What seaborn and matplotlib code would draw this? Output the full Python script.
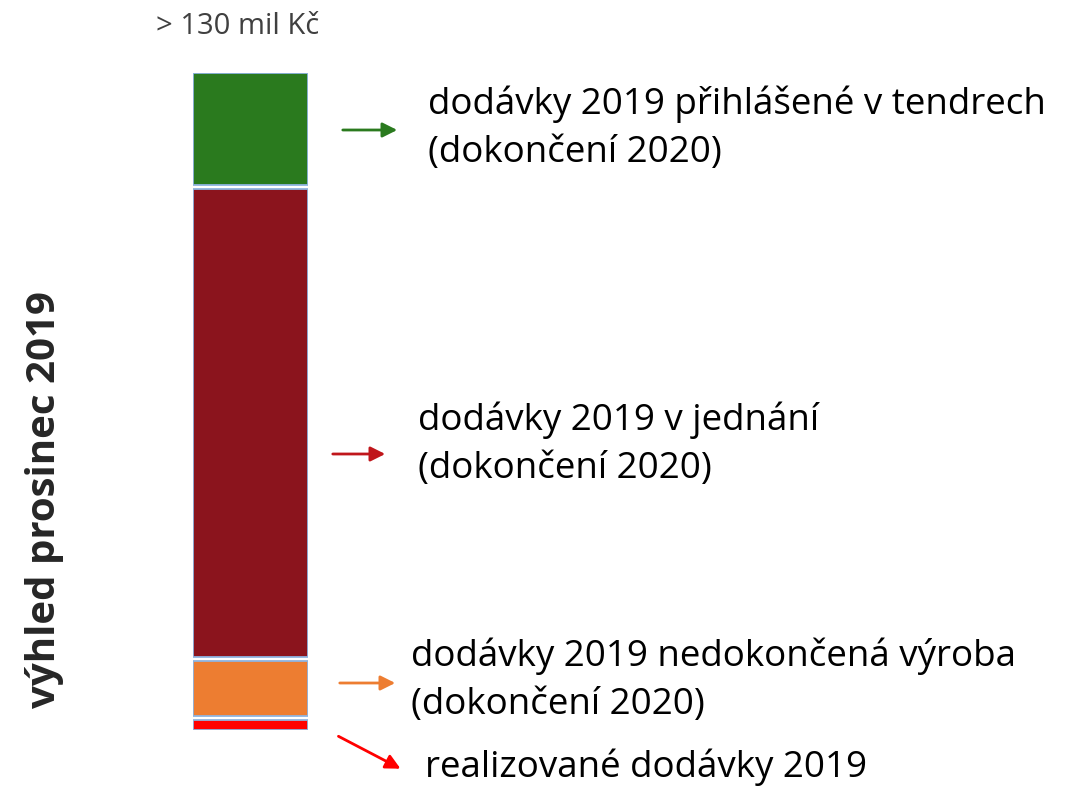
import matplotlib
matplotlib.use('Agg')
import matplotlib.pyplot as plt
import seaborn as sns

sns.set_style('white')
plt.rcParams['font.family'] = ['Open Sans', 'DejaVu Sans']

# segments from bottom to top (mil Kc)
segments = ['realizované dodávky 2019',
            'dodávky 2019 nedokončená výroba\n(dokončení 2020)',
            'dodávky 2019 v jednání\n(dokončení 2020)',
            'dodávky 2019 přihlášené v tendrech\n(dokončení 2020)']
values = [2, 11, 94, 22.5]
bar_colors = ['#FF0000', '#ED7D31', '#8B141D', '#2A7A1E']
arrow_colors = ['#FF0000', '#ED7D31', '#C0161B', '#2A7A1E']
total_label = '> 130 mil Kč'
ylabel = 'výhled prosinec 2019'

W, H = 1071, 788
fig = plt.figure(figsize=(W / 100, H / 100), dpi=100)

gap = 0.8
total = sum(values) + gap * (len(values) - 1)
ax = fig.add_axes([193 / W, (H - 730) / H, 115 / W, 657 / H])
bottom = 0
for val, col in zip(values, bar_colors):
    sns.barplot(x=[0], y=[val], bottom=bottom, color=col, width=1,
                edgecolor='#8FB4E0', linewidth=1.3, saturation=1, ax=ax)
    bottom += val + gap
ax.set_xlim(-0.5, 0.5)
ax.set_ylim(0, total)
ax.axis('off')

# labels and arrows (figure pixel positions, y from top)
label_pos = [(425, 767), (411, 680), (418, 444), (428, 128)]
arrow_pos = [((336, 735), (403, 770)), ((337, 683), (398, 683)),
             ((330, 454), (388, 454)), ((340, 130), (400, 130))]
for text, col, (tx, ty), (a0, a1) in zip(segments, arrow_colors, label_pos, arrow_pos):
    fig.text(tx / W, 1 - ty / H, text, fontsize=26.5, color='black',
             ha='left', va='center', linespacing=1.45)
    fig.add_artist(matplotlib.patches.FancyArrowPatch(
        (a0[0] / W, 1 - a0[1] / H), (a1[0] / W, 1 - a1[1] / H),
        transform=fig.transFigure, arrowstyle='-|>', mutation_scale=22,
        color=col, linewidth=2))

fig.text(238 / W, 1 - 27 / H, total_label, fontsize=21, color='#404040',
         ha='center', va='center')
fig.text(45 / W, 1 - 500 / H, ylabel, fontsize=29, fontweight='bold',
         rotation=90, ha='center', va='center')

fig.savefig('out.png', dpi=100)
